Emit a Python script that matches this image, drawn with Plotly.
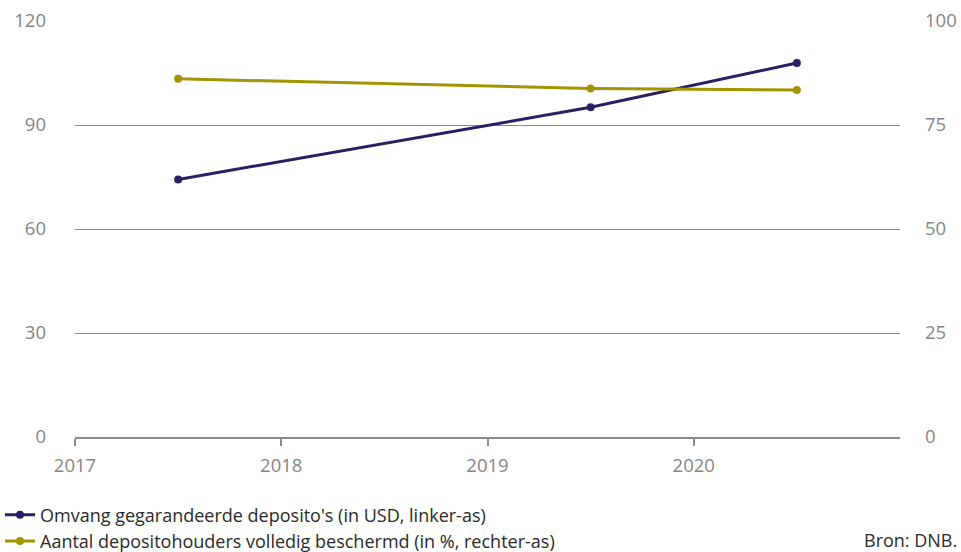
import plotly.graph_objects as go

years = [2017.5, 2019.5, 2020.5]
omvang = [74.3, 95.1, 107.9]        # left axis, USD
aantal = [86.1, 83.8, 83.4]         # right axis, %
x_ticks = [2017, 2018, 2019, 2020]
left_ticks = [0, 30, 60, 90, 120]
right_ticks = [0, 25, 50, 75, 100]

name1 = "Omvang gegarandeerde deposito's (in USD, linker-as)"
name2 = "Aantal depositohouders volledig beschermd (in %, rechter-as)"

purple = "#2b1f63"
olive = "#a39400"
font = "Open Sans"
tick_col = "#858585"
fs = 18.5
fs_leg = 18

fig = go.Figure()
fig.add_trace(go.Scatter(x=years, y=omvang, name=name1, mode="lines+markers",
                         line=dict(color=purple, width=3), marker=dict(size=8, color=purple),
                         yaxis="y", cliponaxis=False))
fig.add_trace(go.Scatter(x=years, y=aantal, name=name2, mode="lines+markers",
                         line=dict(color=olive, width=3), marker=dict(size=8, color=olive),
                         yaxis="y2", cliponaxis=False))

fig.update_layout(
    width=961, height=552,
    margin=dict(l=75, r=61, t=21, b=115, autoexpand=False),
    paper_bgcolor="white", plot_bgcolor="white",
    font=dict(family=font, size=fs, color=tick_col),
    xaxis=dict(range=[2017, 2021], tickvals=x_ticks, ticktext=[str(t) for t in x_ticks],
               showgrid=False, zeroline=False, showline=True, linecolor="#8a8a8a", linewidth=1.5,
               ticks="outside", ticklen=7, tickcolor="#8a8a8a", tickwidth=1.5,
               ticklabelstandoff=4, tickfont=dict(size=fs, color=tick_col)),
    yaxis=dict(range=[0, 120], tickvals=left_ticks, showgrid=True, gridcolor="#8a8a8a", gridwidth=1.3,
               zeroline=False, showline=False, ticks="", ticklabelstandoff=28,
               tickfont=dict(size=fs, color=tick_col)),
    yaxis2=dict(range=[0, 100], tickvals=right_ticks, overlaying="y", side="right",
                showgrid=False, zeroline=False, showline=False, ticks="", ticklabelstandoff=24,
                tickfont=dict(size=fs, color=tick_col)),
    legend=dict(x=-0.0909, xanchor="left", y=-0.143, yanchor="top", orientation="v",
                font=dict(size=fs_leg, color="#2a2a2a"), itemwidth=30, tracegroupgap=0,
                bgcolor="rgba(0,0,0,0)"),
    showlegend=True,
)
fig.add_annotation(text="Bron: DNB.", xref="paper", yref="paper", x=1.0715, y=-0.2476,
                   xanchor="right", yanchor="middle", showarrow=False,
                   font=dict(size=fs_leg, color="#2a2a2a", family=font))

fig.write_html("out.html")
